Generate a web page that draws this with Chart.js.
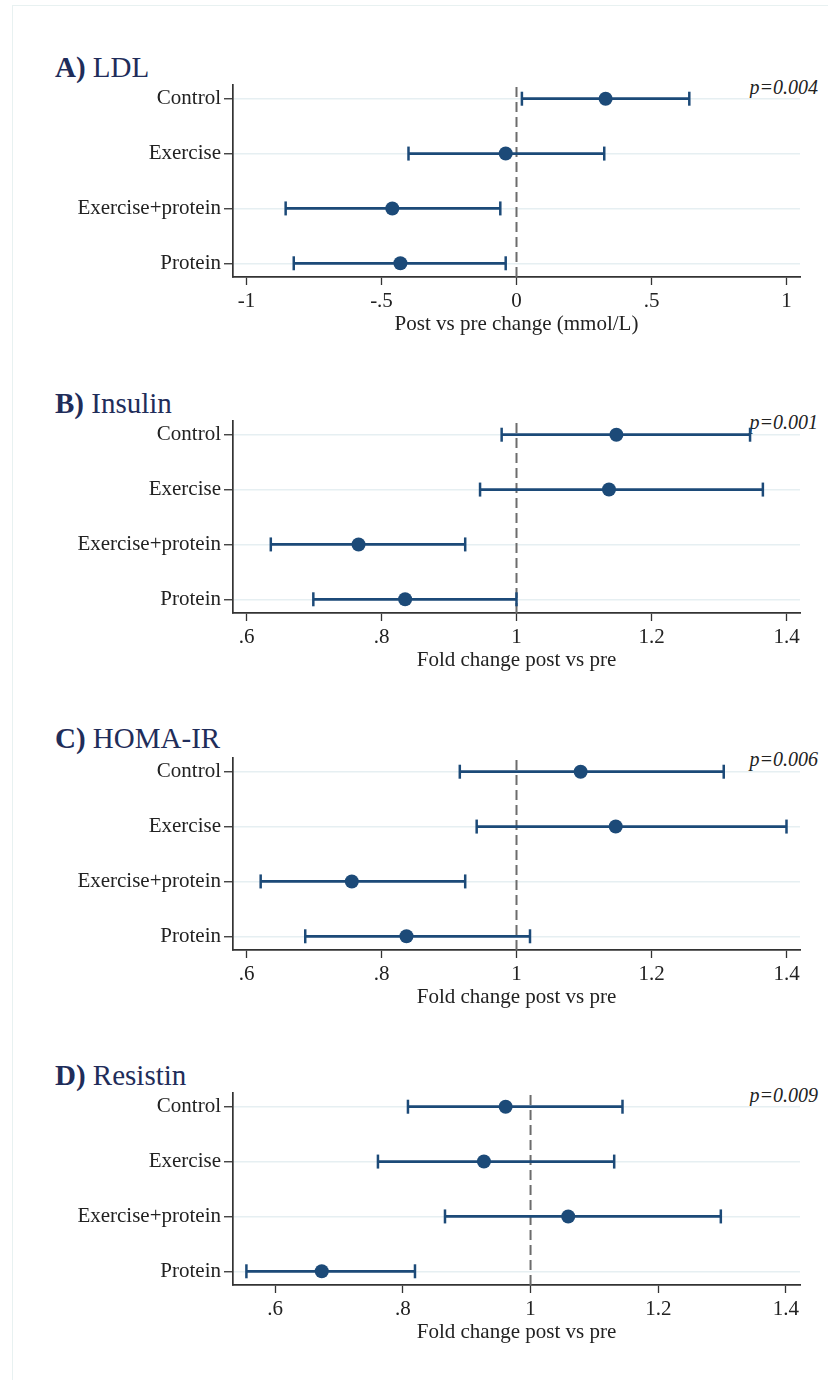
<!DOCTYPE html>
<html>
<head>
<meta charset="utf-8">
<script src="https://cdn.jsdelivr.net/npm/chart.js@4.4.1/dist/chart.umd.min.js"></script>
<style>
body { margin:0; background:#fff; width:828px; height:1380px; position:relative; overflow:hidden; font-family:"Liberation Serif", serif; }
.frame { position:absolute; left:12px; top:5px; width:900px; height:1500px; border:1px solid #e8f1f1; }
.panel-title { position:absolute; left:55px; font-size:29px; line-height:28px; color:#1f2d5a; white-space:nowrap; }
.pval { position:absolute; right:10px; font-size:20px; line-height:20px; font-style:italic; color:#222; white-space:nowrap; }
canvas { position:absolute; left:0; }
</style>
</head>
<body>
<div class="frame"></div>

<div class="panel-title" style="top:53px;"><b>A)</b> LDL</div>
<div class="pval" style="top:77px;">p=0.004</div>
<canvas id="chart-ldl" width="828" height="272" style="top:65px;"></canvas>

<div class="panel-title" style="top:389px;"><b>B)</b> Insulin</div>
<div class="pval" style="top:412px;">p=0.001</div>
<canvas id="chart-insulin" width="828" height="272" style="top:401px;"></canvas>

<div class="panel-title" style="top:724px;"><b>C)</b> HOMA-IR</div>
<div class="pval" style="top:749px;">p=0.006</div>
<canvas id="chart-homa" width="828" height="272" style="top:738px;"></canvas>

<div class="panel-title" style="top:1061px;"><b>D)</b> Resistin</div>
<div class="pval" style="top:1085px;">p=0.009</div>
<canvas id="chart-resistin" width="828" height="272" style="top:1073px;"></canvas>

<script>
const groups   = ['Control', 'Exercise', 'Exercise+protein', 'Protein'];
const groupPos = [4, 3, 2, 1];

// A) LDL, change in mmol/L
const ldlEst = [0.33, -0.04, -0.46, -0.43];
const ldlLo  = [0.02, -0.40, -0.855, -0.825];
const ldlHi  = [0.64, 0.325, -0.06, -0.04];
const ldlTicks      = [-1, -0.5, 0, 0.5, 1];
const ldlTickLabels = ['-1', '-.5', '0', '.5', '1'];

// B) Insulin, fold change
const insEst = [1.148, 1.137, 0.766, 0.835];
const insLo  = [0.978, 0.946, 0.636, 0.699];
const insHi  = [1.346, 1.365, 0.924, 1.0];

// C) HOMA-IR, fold change
const homaEst = [1.095, 1.147, 0.756, 0.837];
const homaLo  = [0.916, 0.941, 0.621, 0.687];
const homaHi  = [1.307, 1.40, 0.924, 1.02];

// D) Resistin, fold change
const resEst = [0.961, 0.927, 1.059, 0.673];
const resLo  = [0.808, 0.761, 0.866, 0.555];
const resHi  = [1.144, 1.131, 1.298, 0.819];

const foldTicks      = [0.6, 0.8, 1, 1.2, 1.4];
const foldTickLabels = ['.6', '.8', '1', '1.2', '1.4'];

const navy    = '#1c4a78';
const axisCol = '#333333';
const txtCol  = '#222222';
const serif   = '"Liberation Serif", "Times New Roman", serif';

function makePanel(id, est, lo, hi, ref, xMin, xMax, ticks, tickLabels, xTitle) {
    const bars = groupPos.map((y, i) => ({
        data: [{ x: lo[i], y }, { x: hi[i], y }],
        showLine: true,
        borderColor: navy,
        borderWidth: 2.8,
        pointStyle: 'line',
        rotation: 90,
        pointRadius: 7,
        pointHoverRadius: 7,
        pointBorderWidth: 2.5,
        pointBorderColor: navy,
    }));

    const dots = {
        data: groupPos.map((y, i) => ({ x: est[i], y })),
        pointRadius: 7,
        pointHoverRadius: 7,
        pointBackgroundColor: navy,
        pointBorderColor: navy,
        pointBorderWidth: 0,
    };

    const refLine = {
        data: [{ x: ref, y: 0.75 }, { x: ref, y: 4.25 }],
        showLine: true,
        borderColor: '#6c6c6c',
        borderWidth: 2,
        borderDash: [10, 5],
        pointRadius: 0,
    };

    new Chart(document.getElementById(id).getContext('2d'), {
        type: 'scatter',
        data: { datasets: [dots, ...bars, refLine] },
        options: {
            responsive: false,
            animation: false,
            devicePixelRatio: 1,
            layout: { padding: { top: 20, right: 28, bottom: 0, left: 0 } },
            plugins: { legend: { display: false }, tooltip: { enabled: false } },
            scales: {
                x: {
                    type: 'linear',
                    min: xMin,
                    max: xMax,
                    afterBuildTicks: s => { s.ticks = ticks.map(v => ({ value: v })); },
                    afterFit: s => { s.height = 60; },
                    ticks: {
                        callback: (v, i) => tickLabels[i],
                        font: { family: serif, size: 21 },
                        color: txtCol,
                        padding: 4,
                        maxRotation: 0,
                        autoSkip: false,
                    },
                    grid: { drawOnChartArea: false, drawTicks: true, tickLength: 8, tickColor: axisCol, tickWidth: 1.3 },
                    border: { color: axisCol, width: 1.7 },
                    title: { display: true, text: xTitle, font: { family: serif, size: 21 }, color: txtCol, padding: 0 },
                },
                y: {
                    type: 'linear',
                    min: 0.75,
                    max: 4.25,
                    afterBuildTicks: s => { s.ticks = [1, 2, 3, 4].map(v => ({ value: v })); },
                    afterFit: s => { s.width = 233; },
                    ticks: {
                        callback: v => groups[groupPos.indexOf(v)],
                        font: { family: serif, size: 21 },
                        color: txtCol,
                        padding: 3,
                        autoSkip: false,
                    },
                    grid: { color: '#e6eff2', lineWidth: 1.5, tickColor: axisCol, tickLength: 9, tickWidth: 1.3 },
                    border: { color: axisCol, width: 1.7 },
                },
            },
        },
    });
}

makePanel('chart-ldl', ldlEst, ldlLo, ldlHi, 0, -1.05, 1.05, ldlTicks, ldlTickLabels, 'Post vs pre change (mmol/L)');
makePanel('chart-insulin', insEst, insLo, insHi, 1, 0.58, 1.42, foldTicks, foldTickLabels, 'Fold change post vs pre');
makePanel('chart-homa', homaEst, homaLo, homaHi, 1, 0.58, 1.42, foldTicks, foldTickLabels, 'Fold change post vs pre');
makePanel('chart-resistin', resEst, resLo, resHi, 1, 0.534, 1.422, foldTicks, foldTickLabels, 'Fold change post vs pre');
</script>
</body>
</html>
